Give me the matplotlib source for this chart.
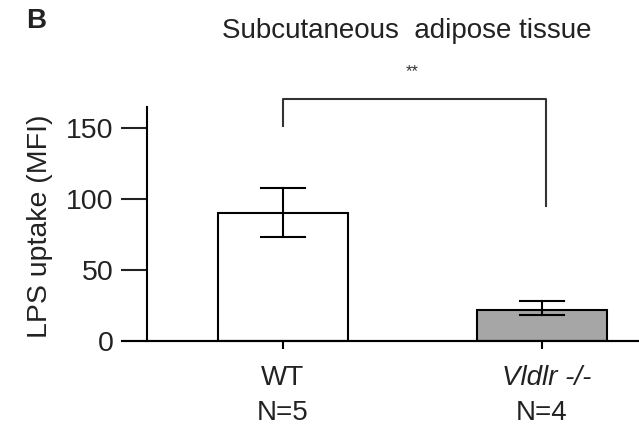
import matplotlib.pyplot as plt

plt.rcParams['font.family'] = ['Liberation Sans', 'DejaVu Sans']

groups = ['WT', 'Vldlr -/-']
group_n = [5, 4]
means = [90, 22]
err_low = [73, 18]
err_high = [108, 28]
bar_colors = ['white', '#a6a6a6']
yticks = [0, 50, 100, 150]

fig = plt.figure(figsize=(6.39, 4.25), dpi=100)
ax = fig.add_axes([0.230, 0.198, 0.770, 0.550])

x = [0, 1]
ax.bar(x, means, width=0.5, color=bar_colors, edgecolor='black', linewidth=1.5, zorder=2)

# error bars (range drawn as whiskers)
for xi, m, lo, hi in zip(x, means, err_low, err_high):
    ax.plot([xi, xi], [lo, hi], color='black', lw=1.5, zorder=3)
    ax.plot([xi - 0.085, xi + 0.085], [hi, hi], color='black', lw=1.5, zorder=3)
    ax.plot([xi - 0.085, xi + 0.085], [lo, lo], color='black', lw=1.5, zorder=3)

ax.set_xlim(-0.525, 1.375)
ax.set_ylim(0, 165)
ax.set_yticks(yticks)
ax.tick_params(axis='y', length=19, width=1.5, labelsize=20.5, pad=5, colors='#222222')
ax.tick_params(axis='x', length=6, width=1.5, direction='out')
ax.set_xticks(x)
ax.set_xticklabels([''] * len(x))

for s in ['top', 'right']:
    ax.spines[s].set_visible(False)
ax.spines['left'].set_linewidth(1.5)
ax.spines['bottom'].set_linewidth(1.5)
# baseline runs past the y axis
ax.plot([-0.62, 1.375], [0, 0], color='black', lw=1.5, clip_on=False, zorder=4)

ax.set_ylabel('LPS uptake (MFI)', fontsize=20.5, color='#222222')
ax.yaxis.set_label_coords(-0.191, 0.492)

# group labels
for xi, g, n in zip(x, groups, group_n):
    if g == 'WT':
        ax.text(xi, -0.188, g, transform=ax.get_xaxis_transform(), ha='center', va='baseline',
                fontsize=20, color='#222222')
    else:
        ax.text(xi + 0.02, -0.188, g, transform=ax.get_xaxis_transform(), ha='center',
                va='baseline', fontsize=20, style='italic', color='#222222')
    ax.text(xi, -0.338, 'N=%d' % n, transform=ax.get_xaxis_transform(), ha='center',
            va='baseline', fontsize=20, color='#222222')

# significance bracket
ax.plot([0, 0, 1.016, 1.016], [152, 171, 171, 95.5], color='#333333', lw=1.5, clip_on=False)
ax.text(0.5, 190, '**', ha='center', va='center', fontsize=12, color='#333333')

fig.text(0.636, 0.9106, 'Subcutaneous  adipose tissue', ha='center', va='baseline',
         fontsize=20, color='#222222')
fig.text(0.041, 0.934, 'B', ha='left', va='baseline', fontsize=20, fontweight='bold', color='#222222')

fig.savefig('out.png', dpi=100)
